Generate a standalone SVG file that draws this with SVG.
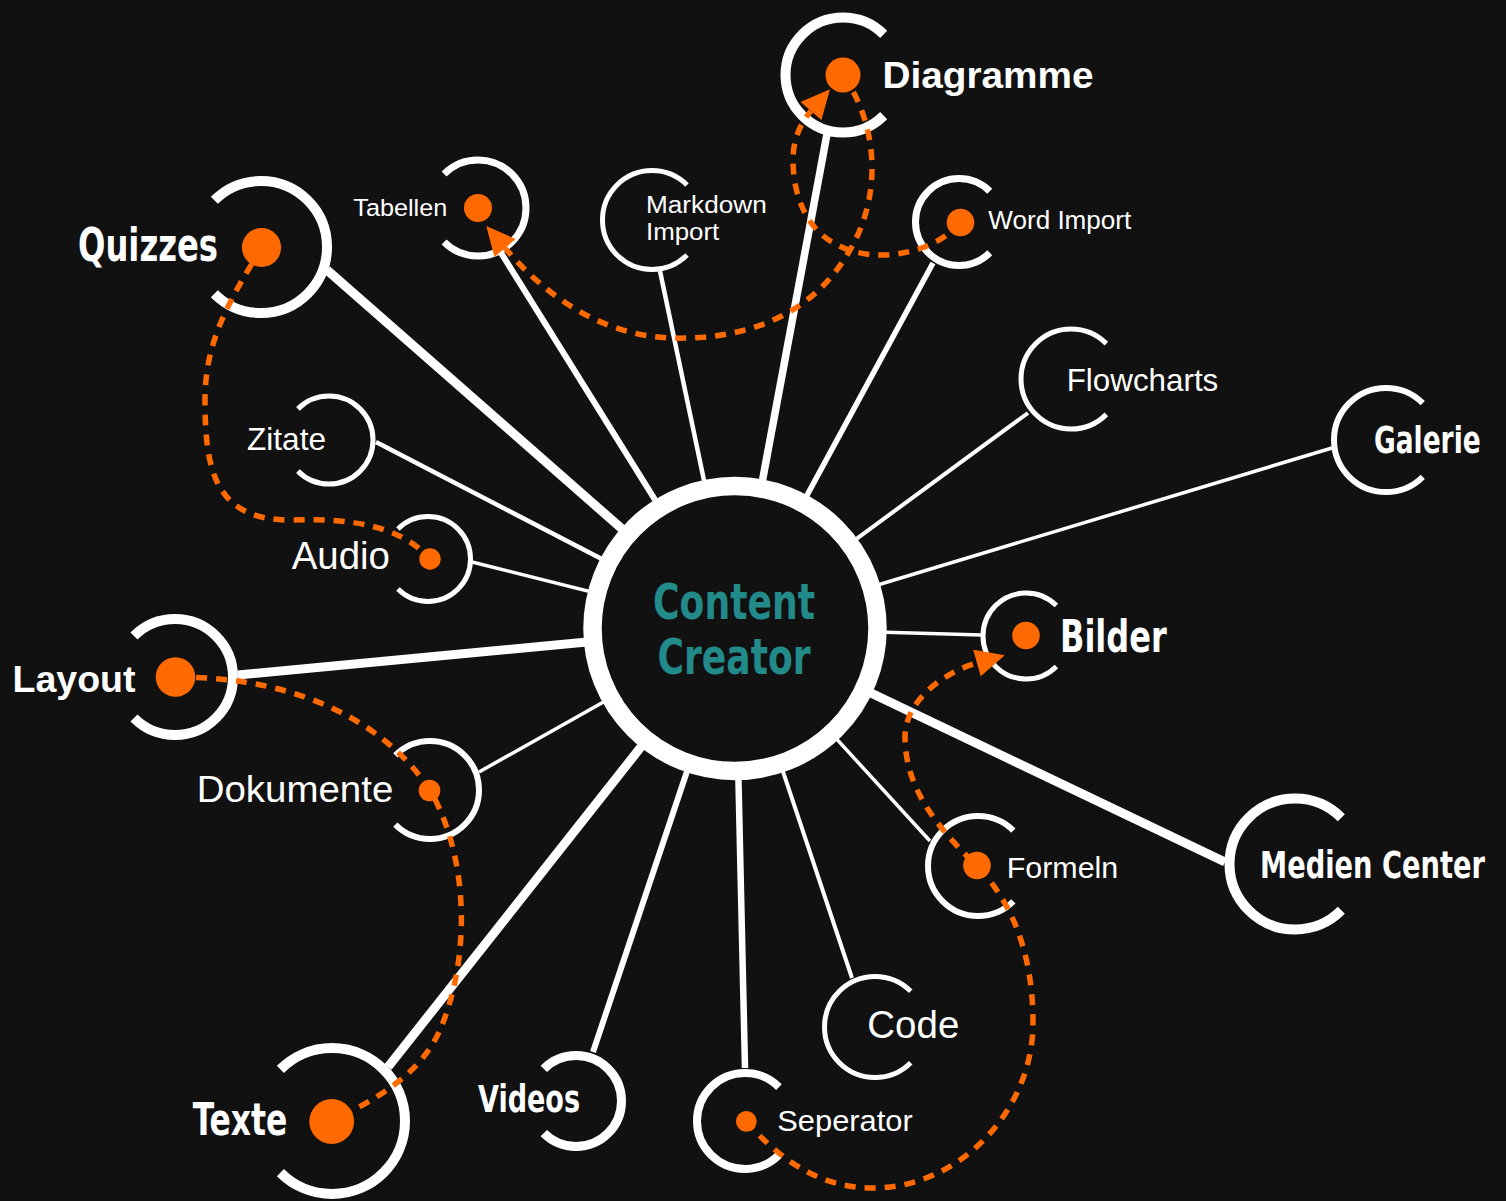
<svg xmlns="http://www.w3.org/2000/svg" width="1506" height="1201" viewBox="0 0 1506 1201">
<style>
.arc{fill:none;stroke:#fff;stroke-linecap:butt}
.ln{stroke:#fff;stroke-linecap:butt}
.dot{fill:#ff6a00}
.dash{fill:none;stroke:#ff6a00;stroke-width:5.5;stroke-dasharray:11 9}
.reg{font-family:"Liberation Sans",Arial,sans-serif;fill:#fff}
.bld{font-family:"Liberation Sans",Arial,sans-serif;font-weight:bold;fill:#fff}
.cnd{font-family:"Liberation Sans Narrow","DejaVu Sans Condensed","Liberation Sans",sans-serif;font-weight:bold;fill:#fff}
</style>
<defs>
<marker id="arr" markerUnits="userSpaceOnUse" markerWidth="30" markerHeight="30" viewBox="0 -13 26 26" refX="0" refY="0" orient="auto" overflow="visible">
<path d="M0,-12 L25,0 L0,12 z" fill="#ff6a00"/>
</marker>
</defs>
<rect width="1506" height="1201" fill="#111111"/>
<g id="connectors">
<line class="ln" x1="327" y1="270" x2="735" y2="628" stroke-width="9"/>
<line class="ln" x1="498" y1="248" x2="735" y2="628" stroke-width="6"/>
<line class="ln" x1="660" y1="271" x2="735" y2="628" stroke-width="4.5"/>
<line class="ln" x1="827" y1="134" x2="735" y2="628" stroke-width="7.5"/>
<line class="ln" x1="933" y1="263" x2="735" y2="628" stroke-width="5.5"/>
<line class="ln" x1="1028" y1="413" x2="735" y2="628" stroke-width="4"/>
<line class="ln" x1="1332" y1="448" x2="735" y2="628" stroke-width="3.5"/>
<line class="ln" x1="982" y1="635" x2="735" y2="628" stroke-width="3.5"/>
<line class="ln" x1="1225" y1="862" x2="735" y2="628" stroke-width="9"/>
<line class="ln" x1="930" y1="841" x2="735" y2="628" stroke-width="3.5"/>
<line class="ln" x1="852" y1="978" x2="735" y2="628" stroke-width="4"/>
<line class="ln" x1="745" y1="1068" x2="735" y2="628" stroke-width="6.5"/>
<line class="ln" x1="593" y1="1052" x2="735" y2="628" stroke-width="6"/>
<line class="ln" x1="388" y1="1067" x2="735" y2="628" stroke-width="9"/>
<line class="ln" x1="479" y1="772" x2="735" y2="628" stroke-width="3.5"/>
<line class="ln" x1="238" y1="675" x2="735" y2="628" stroke-width="9"/>
<line class="ln" x1="472" y1="562" x2="735" y2="628" stroke-width="3.5"/>
<line class="ln" x1="376" y1="442" x2="735" y2="628" stroke-width="4.5"/>
</g>
<g id="center">
<circle cx="735" cy="628.5" r="142.5" fill="#111111" stroke="#fff" stroke-width="18.5"/>
<text class="cnd" x="653" y="618.5" font-size="50" fill="#238a8a" style="fill:#238a8a" textLength="162" lengthAdjust="spacingAndGlyphs">Content</text>
<text class="cnd" x="657.5" y="673.5" font-size="50" style="fill:#238a8a" textLength="153" lengthAdjust="spacingAndGlyphs">Creator</text>
</g>
<g id="node-diagramme">
<path class="arc" stroke-width="10" d="M883.66,34.34 A57.5,57.5 0 1 0 883.66,115.66"/>
<text class="bld" x="882.5" y="88.3" font-size="36" textLength="211" lengthAdjust="spacingAndGlyphs">Diagramme</text>
</g>
<g id="node-word-import">
<path class="arc" stroke-width="7" d="M989.76,191.24 A43.5,43.5 0 1 0 989.76,252.76"/>
<text class="reg" x="988.3" y="229.3" font-size="25.5" textLength="143" lengthAdjust="spacingAndGlyphs">Word Import</text>
</g>
<g id="node-markdown-import">
<path class="arc" stroke-width="5" d="M687,185 A49.5,49.5 0 1 0 687,255"/>
<text class="reg" x="646" y="213.3" font-size="23.5" textLength="120.7" lengthAdjust="spacingAndGlyphs">Markdown</text>
<text class="reg" x="646" y="240" font-size="23.5" textLength="73.3" lengthAdjust="spacingAndGlyphs">Import</text>
</g>
<g id="node-flowcharts">
<path class="arc" stroke-width="5" d="M1106.36,343.64 A50,50 0 1 0 1106.36,414.36"/>
<text class="reg" x="1066.7" y="390.7" font-size="31.5" textLength="151.6" lengthAdjust="spacingAndGlyphs">Flowcharts</text>
</g>
<g id="node-galerie">
<path class="arc" stroke-width="6" d="M1422.77,403.23 A52,52 0 1 0 1422.77,476.77"/>
<text class="cnd" x="1374" y="453.3" font-size="38" textLength="106.7" lengthAdjust="spacingAndGlyphs">Galerie</text>
</g>
<g id="node-bilder">
<path class="arc" stroke-width="5" d="M1056.41,605.59 A43,43 0 1 0 1056.41,666.41"/>
<text class="cnd" x="1060" y="651.7" font-size="45" textLength="106.7" lengthAdjust="spacingAndGlyphs">Bilder</text>
</g>
<g id="node-medien-center">
<path class="arc" stroke-width="10" d="M1341.32,817.68 A65.5,65.5 0 1 0 1341.32,910.32"/>
<text class="cnd" x="1260" y="878.3" font-size="37" textLength="225" lengthAdjust="spacingAndGlyphs">Medien Center</text>
</g>
<g id="node-formeln">
<path class="arc" stroke-width="6" d="M1013.36,830.64 A50,50 0 1 0 1013.36,901.36"/>
<text class="reg" x="1006.7" y="877.7" font-size="30" textLength="111.6" lengthAdjust="spacingAndGlyphs">Formeln</text>
</g>
<g id="node-code">
<path class="arc" stroke-width="5" d="M910.71,991.29 A50.5,50.5 0 1 0 910.71,1062.71"/>
<text class="reg" x="867.3" y="1038.3" font-size="38.5" textLength="92" lengthAdjust="spacingAndGlyphs">Code</text>
</g>
<g id="node-seperator">
<path class="arc" stroke-width="8" d="M778.94,1087.06 A48,48 0 1 0 778.94,1154.94"/>
<text class="reg" x="777.3" y="1131" font-size="29" textLength="135.4" lengthAdjust="spacingAndGlyphs">Seperator</text>
</g>
<g id="node-tabellen">
<path class="arc" stroke-width="7" d="M444.06,174.06 A48,48 0 1 1 444.06,241.94"/>
<text class="reg" x="353.3" y="216" font-size="24.5" textLength="94" lengthAdjust="spacingAndGlyphs">Tabellen</text>
</g>
<g id="node-quizzes">
<path class="arc" stroke-width="10" d="M214.33,200.33 A66,66 0 1 1 214.33,293.67"/>
<text class="cnd" x="78" y="261" font-size="46" textLength="140" lengthAdjust="spacingAndGlyphs">Quizzes</text>
</g>
<g id="node-zitate">
<path class="arc" stroke-width="5" d="M297.89,408.89 A44,44 0 1 1 297.89,471.11"/>
<text class="reg" x="247" y="450" font-size="31.5" textLength="79" lengthAdjust="spacingAndGlyphs">Zitate</text>
</g>
<g id="node-audio">
<path class="arc" stroke-width="5" d="M397.95,528.95 A42.5,42.5 0 1 1 397.95,589.05"/>
<text class="reg" x="291.7" y="569.3" font-size="38" textLength="98.3" lengthAdjust="spacingAndGlyphs">Audio</text>
</g>
<g id="node-layout">
<path class="arc" stroke-width="10" d="M133.99,635.99 A58,58 0 1 1 133.99,718.01"/>
<text class="bld" x="12.5" y="691.7" font-size="37" textLength="123" lengthAdjust="spacingAndGlyphs">Layout</text>
</g>
<g id="node-dokumente">
<path class="arc" stroke-width="6" d="M395.35,755.35 A49,49 0 1 1 395.35,824.65"/>
<text class="reg" x="196.7" y="801.7" font-size="37.5" textLength="196.6" lengthAdjust="spacingAndGlyphs">Dokumente</text>
</g>
<g id="node-texte">
<path class="arc" stroke-width="10" d="M280.38,1069.38 A73,73 0 1 1 280.38,1172.62"/>
<text class="cnd" x="192.7" y="1135" font-size="44" textLength="94.6" lengthAdjust="spacingAndGlyphs">Texte</text>
</g>
<g id="node-videos">
<path class="arc" stroke-width="9" d="M543.83,1068.83 A45.5,45.5 0 1 1 543.83,1133.17"/>
<text class="cnd" x="478" y="1111.7" font-size="37" textLength="102" lengthAdjust="spacingAndGlyphs">Videos</text>
</g>
<g id="flows">
<path class="dash" d="M262,247 C230,300 205,340 205,400 C205,470 215,520 290,520 C350,518 400,525 430,559"/>
<path class="dash" d="M176,677 C310,677 390,730 430,790 C470,860 470,960 440,1030 C420,1075 375,1100 332,1121"/>
<path class="dash" d="M746,1121 C780,1160 820,1188 873,1188 C960,1188 1033,1110 1033,1023 C1033,950 1010,900 977,866 C940,830 905,790 905,737 C905,700 945,672 977,663" marker-end="url(#arr)"/>
<path class="dash" d="M843,75 C875,120 885,190 850,250 C810,320 740,340 670,338 C600,335 545,295 505,248" marker-end="url(#arr)"/>
<path class="dash" d="M960,222 C935,255 870,265 836,244 C810,232 793,200 793,160 C793,135 804,119 811,111" marker-end="url(#arr)"/>
</g>
<g id="dots">
<circle class="dot" cx="843" cy="75" r="17.5"/>
<circle class="dot" cx="960.5" cy="222.5" r="13.8"/>
<circle class="dot" cx="478" cy="208" r="14"/>
<circle class="dot" cx="261.5" cy="247.5" r="19.6"/>
<circle class="dot" cx="430" cy="559" r="10.7"/>
<circle class="dot" cx="175.5" cy="677" r="19.8"/>
<circle class="dot" cx="429.5" cy="790.5" r="10.8"/>
<circle class="dot" cx="331.7" cy="1121.5" r="22.4"/>
<circle class="dot" cx="746.3" cy="1121.3" r="10.4"/>
<circle class="dot" cx="977" cy="865.5" r="13.8"/>
<circle class="dot" cx="1026" cy="635.5" r="13.8"/>
</g>
</svg>
